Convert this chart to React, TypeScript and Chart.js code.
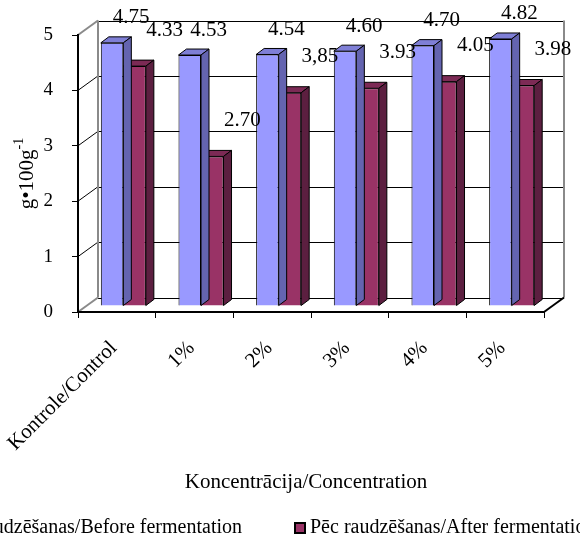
import React, { useEffect, useRef } from "react";
import { Chart, registerables } from "chart.js";

Chart.register(...registerables);

// ---- data ----
const categories = ["Kontrole/Control", "1%", "2%", "3%", "4%", "5%"];
const beforeValues = [4.75, 4.53, 4.54, 4.6, 4.7, 4.82];
const afterValues = [4.33, 2.7, 3.85, 3.93, 4.05, 3.98];
const beforeLabels = ["4.75", "4.53", "4.54", "4.60", "4.70", "4.82"];
const afterLabels = ["4.33", "2.70", "3,85", "3.93", "4.05", "3.98"];
const yTicks = [0, 1, 2, 3, 4, 5];
const seriesNames = [
  "Pirms raudzēšanas/Before fermentation",
  "Pēc raudzēšanas/After fermentation",
];
const xTitle = "Koncentrācija/Concentration";
const yTitleMain = "g•100g";
const yTitleSup = "-1";

// ---- style ----
const FONT = '"Liberation Serif", "Times New Roman", serif';
const FRONT = ["#9999FF", "#993366"];
const TOP = ["#7F7FD6", "#7C2A55"];
const SIDE = ["#6464B0", "#5C1F40"];
const DEPTH_X = 20;
const DEPTH_Y = -14.5;
const SHIFT_X = 6.5;
const SHIFT_Y = -6;
const BAR_DX = 8;
const BAR_DY = -6;
const LABEL_OFF = [
  [19, -25],
  [30, -36],
];

function line(ctx: CanvasRenderingContext2D, x1: number, y1: number, x2: number, y2: number) {
  ctx.beginPath();
  ctx.moveTo(x1, y1);
  ctx.lineTo(x2, y2);
  ctx.stroke();
}

const wallsPlugin = {
  id: "walls3d",
  beforeDraw(chart: any) {
    const { ctx, chartArea: a, scales } = chart;
    const ys = scales.y;
    const l = a.left;
    const r = a.right;
    const t = ys.getPixelForValue(yTicks[yTicks.length - 1]);
    const b = ys.getPixelForValue(yTicks[0]);
    ctx.save();
    ctx.fillStyle = "#ffffff";
    ctx.fillRect(0, 0, chart.width, chart.height);
    ctx.strokeStyle = "#000";
    ctx.lineWidth = 1;
    for (const v of yTicks) {
      const p = Math.round(ys.getPixelForValue(v) + DEPTH_Y) + 0.5;
      line(ctx, l + DEPTH_X, p, r + DEPTH_X, p);
    }
    for (const v of yTicks.slice(1, -1)) {
      const p = ys.getPixelForValue(v);
      line(ctx, l, p, l + DEPTH_X, p + DEPTH_Y);
    }
    ctx.strokeStyle = "#8a8a8a";
    ctx.lineWidth = 2;
    line(ctx, l + DEPTH_X, t + DEPTH_Y, l + DEPTH_X, b + DEPTH_Y);
    line(ctx, r + DEPTH_X, t + DEPTH_Y, r + DEPTH_X, b + DEPTH_Y);
    line(ctx, l, t, l + DEPTH_X, t + DEPTH_Y);
    line(ctx, l, b, l + DEPTH_X, b + DEPTH_Y);
    ctx.strokeStyle = "#000";
    line(ctx, r, b, r + DEPTH_X, b + DEPTH_Y);
    ctx.restore();
  },
};

const barsPlugin = {
  id: "bars3d",
  beforeDatasetsDraw(chart: any) {
    chart.ctx.save();
    chart.ctx.translate(SHIFT_X, SHIFT_Y);
  },
  afterDatasetDraw(chart: any, args: any) {
    const ctx = chart.ctx;
    const i = args.index;
    ctx.save();
    ctx.strokeStyle = "#000";
    ctx.lineWidth = 1;
    ctx.lineJoin = "miter";
    for (const el of args.meta.data) {
      const { x, y, base, width } = el.getProps(["x", "y", "base", "width"], true);
      const left = x - width / 2;
      const right = x + width / 2;
      ctx.beginPath();
      ctx.moveTo(left, y);
      ctx.lineTo(left + BAR_DX, y + BAR_DY);
      ctx.lineTo(right + BAR_DX, y + BAR_DY);
      ctx.lineTo(right, y);
      ctx.closePath();
      ctx.fillStyle = TOP[i];
      ctx.fill();
      ctx.stroke();
      ctx.beginPath();
      ctx.moveTo(right, y);
      ctx.lineTo(right + BAR_DX, y + BAR_DY);
      ctx.lineTo(right + BAR_DX, base + BAR_DY);
      ctx.lineTo(right, base);
      ctx.closePath();
      ctx.fillStyle = SIDE[i];
      ctx.fill();
      ctx.stroke();
    }
    ctx.restore();
  },
  afterDatasetsDraw(chart: any) {
    const ctx = chart.ctx;
    const texts = [beforeLabels, afterLabels];
    ctx.font = `21px ${FONT}`;
    ctx.fillStyle = "#000";
    ctx.textAlign = "center";
    ctx.textBaseline = "middle";
    chart.data.datasets.forEach((_ds: any, i: number) => {
      chart.getDatasetMeta(i).data.forEach((el: any, j: number) => {
        ctx.fillText(texts[i][j], el.x + LABEL_OFF[i][0], el.y + LABEL_OFF[i][1]);
      });
    });
    ctx.restore();
  },
};

const textPlugin = {
  id: "texts",
  afterDraw(chart: any) {
    const { ctx, chartArea: a } = chart;
    ctx.save();
    ctx.fillStyle = "#000";
    // y title with superscript
    ctx.save();
    ctx.translate(27, (a.top + a.bottom) / 2);
    ctx.rotate(-Math.PI / 2);
    ctx.font = `21px ${FONT}`;
    const w1 = ctx.measureText(yTitleMain).width;
    ctx.font = `14px ${FONT}`;
    const w2 = ctx.measureText(yTitleSup).width;
    const sx = -(w1 + w2) / 2;
    ctx.textBaseline = "middle";
    ctx.textAlign = "left";
    ctx.font = `21px ${FONT}`;
    ctx.fillText(yTitleMain, sx, 0);
    ctx.font = `14px ${FONT}`;
    ctx.fillText(yTitleSup, sx + w1, -8);
    ctx.restore();

    // x title
    ctx.font = `21px ${FONT}`;
    ctx.textAlign = "center";
    ctx.textBaseline = "middle";
    ctx.fillText(xTitle, (a.left + a.right) / 2 - 5, 482);

    // legend
    ctx.font = `20px ${FONT}`;
    const ly = 528;
    const box2 = 295;
    ctx.textAlign = "left";
    const w0 = ctx.measureText(seriesNames[0]).width;
    const text1End = box2 - 53;
    const text1Start = text1End - w0;
    const boxes = [text1Start - 15, box2];
    const textX = [text1Start, box2 + 15];
    for (let i = 0; i < 2; i++) {
      ctx.fillStyle = FRONT[i];
      ctx.fillRect(boxes[i], ly - 5, 10, 10);
      ctx.strokeStyle = "#000";
      ctx.lineWidth = 2;
      ctx.strokeRect(boxes[i], ly - 5, 10, 10);
      ctx.fillStyle = "#000";
      ctx.fillText(seriesNames[i], textX[i], ly);
    }
    ctx.restore();
  },
};

export default function App() {
  const ref = useRef<HTMLCanvasElement>(null);
  useEffect(() => {
    document.body.style.margin = "0";
    const chart = new Chart(ref.current!, {
      type: "bar",
      data: {
        labels: categories,
        datasets: [
          {
            label: seriesNames[0],
            data: beforeValues,
            backgroundColor: FRONT[0],
            borderColor: "#000",
            borderWidth: 1,
            clip: false as any,
          },
          {
            label: seriesNames[1],
            data: afterValues,
            backgroundColor: FRONT[1],
            borderColor: "#000",
            borderWidth: 1,
            clip: false as any,
          },
        ],
      },
      options: {
        responsive: false,
        animation: false,
        events: [],
        layout: { padding: { top: 35, right: 36, left: 0, bottom: 0 } },
        datasets: { bar: { categoryPercentage: 0.58, barPercentage: 1 } },
        plugins: { legend: { display: false }, tooltip: { enabled: false } },
        scales: {
          x: {
            grid: { drawOnChartArea: false, drawTicks: true, tickLength: 6, color: "#000", offset: true },
            border: { display: true, color: "#000", width: 2 },
            ticks: {
              autoSkip: false,
              minRotation: 45,
              maxRotation: 45,
              padding: 18,
              labelOffset: -3,
              color: "#000",
              font: { family: FONT, size: 21 },
            },
            afterFit: (s: any) => {
              s.height = 225;
              s.paddingLeft = 0;
              s.paddingRight = 0;
            },
          },
          y: {
            min: 0,
            max: 5,
            grid: { drawOnChartArea: false, drawTicks: true, tickLength: 6, color: "#000" },
            border: { display: true, color: "#000", width: 2 },
            ticks: {
              stepSize: 1,
              padding: 19,
              color: "#000",
              font: { family: FONT, size: 19 },
              callback: (v: any) => (yTicks.includes(v) ? String(v) : ""),
            },
            afterFit: (s: any) => {
              s.width = 78;
              s.paddingTop = 0;
              s.paddingBottom = 0;
            },
          },
        },
      },
      plugins: [wallsPlugin, barsPlugin, textPlugin],
    });
    return () => chart.destroy();
  }, []);
  return (
    <div style={{ position: "absolute", left: 0, top: 0, width: 580, height: 537 }}>
      <canvas ref={ref} width={580} height={537} style={{ display: "block" }} />
    </div>
  );
}
